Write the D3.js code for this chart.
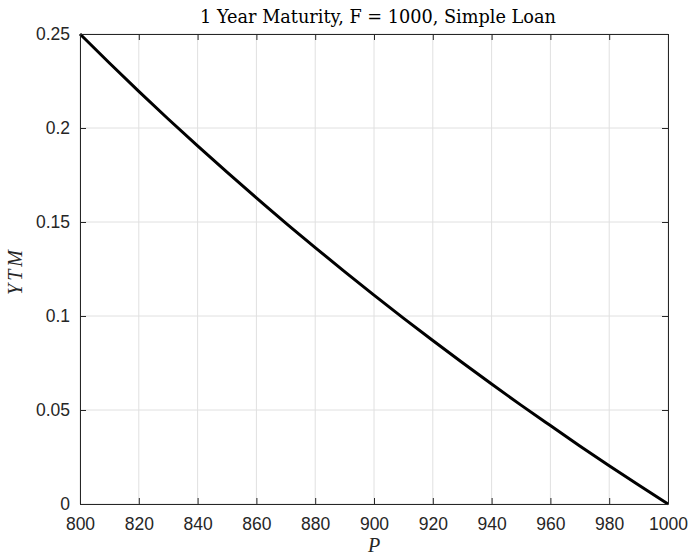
<!DOCTYPE html>
<html>
<head>
<meta charset="utf-8">
<script src="https://cdn.jsdelivr.net/npm/d3@7"></script>
<style>
  html, body { margin: 0; padding: 0; background: #fff; }
  svg { display: block; }
  .tick text { font-family: "Liberation Sans", Arial, sans-serif; font-size: 17.5px; fill: #262626; }
</style>
</head>
<body>
<svg id="chart" width="697" height="555"></svg>
<script>
// Price of the loan and its yield to maturity
const price = [800, 810, 820, 830, 840, 850, 860, 870, 880, 890, 900, 910, 920, 930, 940, 950, 960, 970, 980, 990, 1000];
const ytm = [0.25, 0.2346, 0.2195, 0.2048, 0.1905, 0.1765, 0.1628, 0.1494, 0.1364, 0.1236, 0.1111, 0.0989, 0.0870, 0.0753, 0.0638, 0.0526, 0.0417, 0.0309, 0.0204, 0.0101, 0];

const xTicks = [800, 820, 840, 860, 880, 900, 920, 940, 960, 980, 1000];
const yTicks = [0, 0.05, 0.1, 0.15, 0.2, 0.25];
const yTickLabels = ["0", "0.05", "0.1", "0.15", "0.2", "0.25"];

const titleText = "1 Year Maturity, F = 1000, Simple Loan";
const xLabel = "P";
const yLabel = "YTM";

const svg = d3.select("#chart");
const m = { left: 80, right: 668, top: 34, bottom: 504 };

const x = d3.scaleLinear().domain([800, 1000]).range([m.left, m.right]);
const y = d3.scaleLinear().domain([0, 0.25]).range([m.bottom, m.top]);

const axisColor = "#262626";
const tickLen = 6;

// grid
const grid = svg.append("g");
grid.selectAll(".gx").data(xTicks).join("line")
  .attr("x1", d => x(d)).attr("x2", d => x(d))
  .attr("y1", m.top).attr("y2", m.bottom)
  .attr("stroke", "#e0e0e0").attr("stroke-width", 1);
grid.selectAll(".gy").data(yTicks).join("line")
  .attr("x1", m.left).attr("x2", m.right)
  .attr("y1", d => y(d)).attr("y2", d => y(d))
  .attr("stroke", "#e0e0e0").attr("stroke-width", 1);

// data line
svg.append("path")
  .datum(price.map((p, i) => [p, ytm[i]]))
  .attr("fill", "none")
  .attr("stroke", "#000")
  .attr("stroke-width", 3)
  .attr("stroke-linejoin", "round")
  .attr("d", d3.line().x(d => x(d[0])).y(d => y(d[1])).curve(d3.curveMonotoneX));

// axes (ticks pointing inward, box on all sides)
function styleAxis(g) {
  g.select(".domain").attr("stroke", axisColor).attr("stroke-width", 1);
  g.selectAll(".tick line").attr("stroke", axisColor);
}

svg.append("g")
  .attr("transform", `translate(0,${m.bottom})`)
  .call(d3.axisBottom(x).tickValues(xTicks).tickSizeInner(-tickLen).tickSizeOuter(0).tickPadding(14).tickFormat(d3.format("d")))
  .call(styleAxis);

svg.append("g")
  .attr("transform", `translate(0,${m.top})`)
  .call(d3.axisTop(x).tickValues(xTicks).tickSizeInner(-tickLen).tickSizeOuter(0).tickFormat(""))
  .call(styleAxis);

svg.append("g")
  .attr("transform", `translate(${m.left},0)`)
  .call(d3.axisLeft(y).tickValues(yTicks).tickSizeInner(-tickLen).tickSizeOuter(0).tickPadding(10).tickFormat((d, i) => yTickLabels[i]))
  .call(styleAxis);

svg.append("g")
  .attr("transform", `translate(${m.right},0)`)
  .call(d3.axisRight(y).tickValues(yTicks).tickSizeInner(-tickLen).tickSizeOuter(0).tickFormat(""))
  .call(styleAxis);

svg.selectAll(".tick text").attr("fill", axisColor);

// title and axis labels
svg.append("text")
  .attr("x", (m.left + m.right) / 2 + 4).attr("y", 23)
  .attr("text-anchor", "middle")
  .attr("font-family", "'DejaVu Serif', 'Liberation Serif', serif")
  .attr("font-size", 17.7)
  .attr("fill", "#000")
  .text(titleText);

svg.append("text")
  .attr("x", (m.left + m.right) / 2).attr("y", 552)
  .attr("text-anchor", "middle")
  .attr("font-family", "'Liberation Serif', 'DejaVu Serif', serif")
  .attr("font-style", "italic")
  .attr("font-size", 20)
  .attr("fill", "#262626")
  .text(xLabel);

svg.append("text")
  .attr("transform", `translate(22,${(m.top + m.bottom) / 2 + 2}) rotate(-90)`)
  .attr("text-anchor", "middle")
  .attr("font-family", "'Liberation Serif', 'DejaVu Serif', serif")
  .attr("font-style", "italic")
  .attr("font-size", 20)
  .attr("letter-spacing", 3)
  .attr("fill", "#262626")
  .text(yLabel);
</script>
</body>
</html>
